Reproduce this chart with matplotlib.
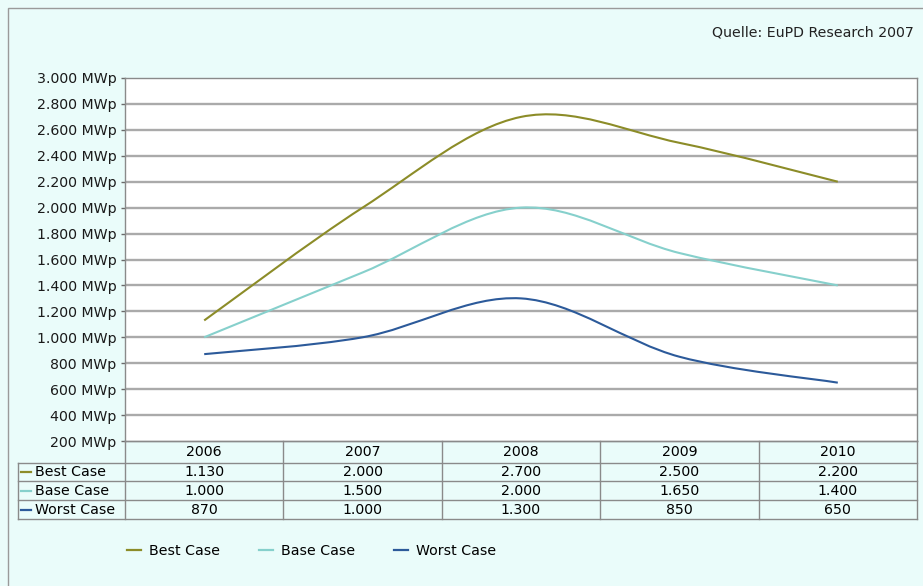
import numpy as np
import matplotlib
matplotlib.use("Agg")
import matplotlib.pyplot as plt
from matplotlib.path import Path
from matplotlib.patches import PathPatch, Rectangle
from matplotlib.lines import Line2D

# Daten
jahre = [2006, 2007, 2008, 2009, 2010]
best_case = [1130, 2000, 2700, 2500, 2200]
base_case = [1000, 1500, 2000, 1650, 1400]
worst_case = [870, 1000, 1300, 850, 650]
namen = ["Best Case", "Base Case", "Worst Case"]
farben = ["#8c8c28", "#86d0cc", "#2c5a9a"]
quelle = "Quelle: EuPD Research 2007"

serien = [best_case, base_case, worst_case]

plt.rcParams['font.family'] = ['DejaVu Sans']
W, H = 923, 586
bg = "#eafcfa"
fs = 10.2

fig = plt.figure(figsize=(W / 100, H / 100), dpi=100, facecolor=bg)

# Rahmen
fig.patches.append(Rectangle((8 / W, -0.1), 1.2, 1 - 8 / H + 0.1, transform=fig.transFigure,
                             facecolor=bg, edgecolor="#9a9a9a", lw=1, zorder=-5))


def px(x0, y0, x1, y1):
    return [x0 / W, 1 - y1 / H, (x1 - x0) / W, (y1 - y0) / H]


def fmt(v):
    return "{:,}".format(v).replace(",", ".")


ax = fig.add_axes(px(125, 78, 917, 441))
ax.set_facecolor("white")
ax.set_xlim(jahre[0] - 0.5, jahre[-1] + 0.5)
ax.set_ylim(200, 3000)
yt = np.arange(200, 3001, 200)
ax.set_yticks(yt)
ax.set_yticklabels([fmt(v) + " MWp" for v in yt], fontsize=fs, color="#1a1a1a")
ax.tick_params(axis="y", length=3, width=1, color="#6a6a6a", pad=3)
ax.tick_params(axis="x", bottom=False, labelbottom=False)
for v in yt[1:-1]:
    ax.axhline(v, color="#aaaaaa", lw=1.7, zorder=1)
for s in ax.spines.values():
    s.set_color("#8a8a8a")
    s.set_linewidth(1)


# geglaettete Linien (Catmull-Rom als Bezier)
def glatt(xs, ys):
    p = np.column_stack([xs, ys]).astype(float)
    p = np.vstack([p[0], p, p[-1]])
    verts = [p[1]]
    codes = [Path.MOVETO]
    for i in range(1, len(p) - 2):
        c1 = p[i] + (p[i + 1] - p[i - 1]) / 6
        c2 = p[i + 1] - (p[i + 2] - p[i]) / 6
        verts += [c1, c2, p[i + 1]]
        codes += [Path.CURVE4] * 3
    return Path(verts, codes)


for ys, f in zip(serien, farben):
    ax.add_patch(PathPatch(glatt(jahre, ys), facecolor="none", edgecolor=f, lw=1.5, zorder=3))

fig.text(914 / W, 1 - 32 / H, quelle, ha="right", va="center", fontsize=fs, color="#222222")

# Tabelle
tab = fig.add_axes(px(125, 441, 917, 519), sharex=ax)
tab.set_facecolor(bg)
tab.set_ylim(3.95, 0)
tab.axis("off")
grau = "#8a8a8a"
links = -(125 - 18) / (917 - 125)  # in Achsenanteilen
zeilen = [0, 1.1, 2.05, 3.0, 3.95]
tr = tab.get_yaxis_transform()
for j in jahre:
    tab.text(j, 0.55, str(j), ha="center", va="center", fontsize=fs)
for k, (ys, name, f) in enumerate(zip(serien, namen, farben)):
    yc = (zeilen[k + 1] + zeilen[k + 2]) / 2
    for j, v in zip(jahre, ys):
        tab.text(j, yc, fmt(v), ha="center", va="center", fontsize=fs)
    tab.plot([links + 0.004, links + 0.017], [yc, yc], color=f, lw=1.6, transform=tr, clip_on=False)
    tab.text(links + 0.021, yc, name, ha="left", va="center", fontsize=fs, transform=tr, clip_on=False)
tab.plot([0, 1], [0, 0], color=grau, lw=1, transform=tr, clip_on=False)
for yz in zeilen[1:]:
    tab.plot([links, 1], [yz, yz], color=grau, lw=1, transform=tr, clip_on=False)
for xg in np.arange(jahre[0] - 0.5, jahre[-1] + 0.51, 1):
    tab.plot([xg, xg], [0, zeilen[-1]], color=grau, lw=1, clip_on=False)
tab.plot([links, links], [zeilen[1], zeilen[-1]], color=grau, lw=1, transform=tr, clip_on=False)

# Legende
handles = [Line2D([], [], color=f, lw=1.6) for f in farben]
fig.legend(handles, namen, loc="center left", bbox_to_anchor=(114 / W, 1 - 551 / H), ncol=3,
           frameon=False, fontsize=fs, handlelength=1.0, columnspacing=2.7, handletextpad=0.6)

fig.savefig("out.png", dpi=100, facecolor=bg)
